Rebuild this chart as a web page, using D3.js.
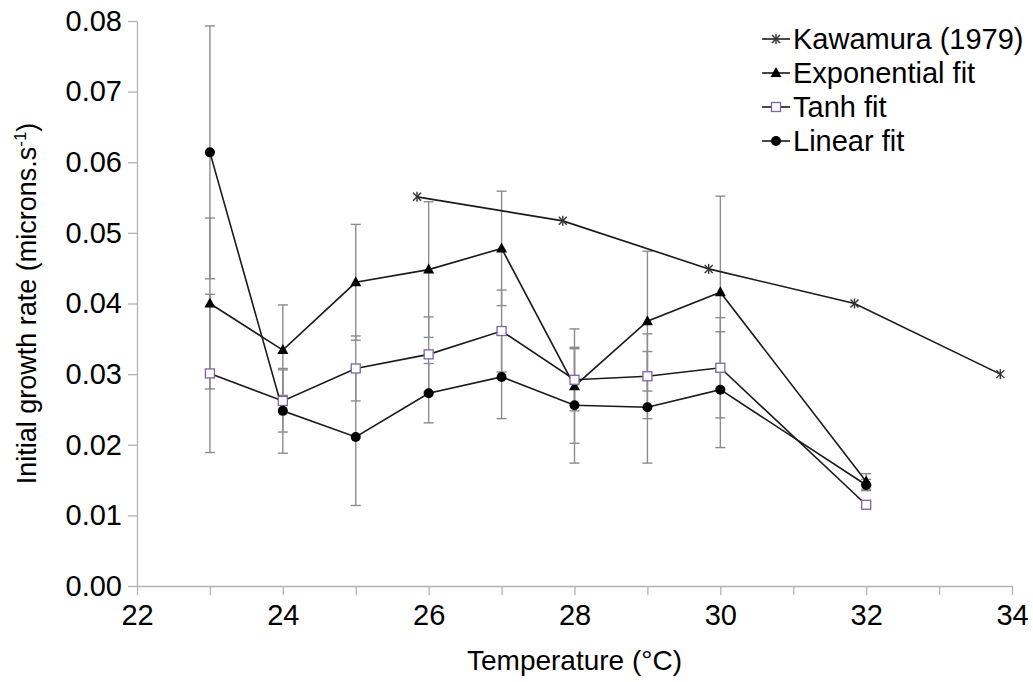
<!DOCTYPE html>
<html lang="en">
<head>
  <meta charset="UTF-8" />
  <title>Initial growth rate vs temperature</title>
  <script src="https://d3js.org/d3.v7.min.js"></script>
  <style>
    body { margin: 0; background: #fff; }
    svg { display: block; font-family: "Liberation Sans", Arial, sans-serif; }
    .axis path, .axis line { stroke: #b3b3b3; stroke-width: 1.3px; }
    .axis text { fill: #000; font-size: 29px; }
  </style>
</head>
<body>
  <div id="chart"></div>

  <script>
    // ----- Data -----
    const temps = [23, 24, 25, 26, 27, 28, 29, 30, 32];

    const expFit     = [0.0400, 0.0334, 0.0430, 0.0448, 0.0478, 0.0283, 0.0375, 0.0416, 0.0148];
    const expErr     = [0.0121, 0.0064, 0.0082, 0.0096, 0.0081, 0.0081, 0.0099, 0.0136, 0.0011];

    const tanhFit    = [0.0301, 0.0262, 0.0308, 0.0328, 0.0361, 0.0292, 0.0297, 0.0309, 0.0115];
    const tanhErr    = [0.0112, 0.0044, 0.0046, 0.0053, 0.0058, 0.0044, 0.0060, 0.0071, 0.0004];

    const linearFit  = [0.0614, 0.0248, 0.0211, 0.0273, 0.0296, 0.0256, 0.0253, 0.0278, 0.0143];
    const linearErr  = [0.0179, 0.0060, 0.0097, 0.0042, 0.0059, 0.0082, 0.0079, 0.0082, 0.0008];

    const kawamuraT  = [25.84, 27.84, 29.84, 31.84, 33.84];
    const kawamura   = [0.0551, 0.0517, 0.0449, 0.0400, 0.0300];

    const xTicks = [22, 23, 24, 25, 26, 27, 28, 29, 30, 31, 32, 33, 34];
    const yTicks = [0, 0.01, 0.02, 0.03, 0.04, 0.05, 0.06, 0.07, 0.08];

    const legendNames = ['Kawamura (1979)', 'Exponential fit', 'Tanh fit', 'Linear fit'];

    // ----- Setup -----
    const width = 1033, height = 682;
    const svg = d3.select('#chart').append('svg')
      .attr('width', width)
      .attr('height', height);

    const x = d3.scaleLinear().domain([22, 34]).range([137, 1012]);
    const y = d3.scaleLinear().domain([0, 0.08]).range([586, 21]);

    // ----- Axes -----
    svg.append('g')
      .attr('class', 'axis')
      .attr('transform', `translate(0,${y(0)})`)
      .call(d3.axisBottom(x)
        .tickValues(xTicks)
        .tickSize(9)
        .tickSizeOuter(0)
        .tickPadding(9)
        .tickFormat(d => d % 2 === 0 ? d : ''));

    svg.append('g')
      .attr('class', 'axis')
      .attr('transform', `translate(${x(22)},0)`)
      .call(d3.axisLeft(y)
        .tickValues(yTicks)
        .tickSize(9)
        .tickSizeOuter(0)
        .tickPadding(6)
        .tickFormat(d3.format('.2f')));

    // axis titles
    svg.append('text')
      .attr('x', (x(22) + x(34)) / 2)
      .attr('y', 670)
      .attr('text-anchor', 'middle')
      .attr('font-size', '28px')
      .text('Temperature (°C)');

    const yTitle = svg.append('text')
      .attr('transform', `translate(36,${(y(0) + y(0.08)) / 2}) rotate(-90)`)
      .attr('text-anchor', 'middle')
      .attr('font-size', '27px');
    yTitle.append('tspan').text('Initial growth rate (microns.s');
    yTitle.append('tspan').attr('font-size', '17px').attr('dy', -10).text('-1');
    yTitle.append('tspan').attr('dy', 10).text(')');

    // ----- Series -----
    const series = [
      { name: legendNames[0], xs: kawamuraT, ys: kawamura, err: null, marker: 'star' },
      { name: legendNames[1], xs: temps, ys: expFit, err: expErr, marker: 'triangle' },
      { name: legendNames[2], xs: temps, ys: tanhFit, err: tanhErr, marker: 'square' },
      { name: legendNames[3], xs: temps, ys: linearFit, err: linearErr, marker: 'circle' }
    ];

    // error bars first (behind)
    const capW = 5;
    series.forEach(s => {
      if (!s.err) return;
      const g = svg.append('g').attr('stroke', '#8c8c8c').attr('stroke-width', 1.4);
      s.xs.forEach((t, i) => {
        const cx = x(t), hi = y(s.ys[i] + s.err[i]), lo = y(s.ys[i] - s.err[i]);
        g.append('line').attr('x1', cx).attr('x2', cx).attr('y1', hi).attr('y2', lo);
        g.append('line').attr('x1', cx - capW).attr('x2', cx + capW).attr('y1', hi).attr('y2', hi);
        g.append('line').attr('x1', cx - capW).attr('x2', cx + capW).attr('y1', lo).attr('y2', lo);
      });
    });

    const line = d3.line().x(d => x(d[0])).y(d => y(d[1]));

    series.forEach(s => {
      svg.append('path')
        .datum(s.xs.map((t, i) => [t, s.ys[i]]))
        .attr('fill', 'none')
        .attr('stroke', '#1a1a1a')
        .attr('stroke-width', 1.6)
        .attr('d', line);
    });

    function drawMarker(g, type, cx, cy) {
      if (type === 'circle') {
        g.append('circle').attr('cx', cx).attr('cy', cy).attr('r', 5).attr('fill', '#000');
      } else if (type === 'triangle') {
        g.append('path')
          .attr('d', `M${cx},${cy - 6}L${cx + 5.5},${cy + 4}L${cx - 5.5},${cy + 4}Z`)
          .attr('fill', '#000');
      } else if (type === 'square') {
        g.append('rect').attr('x', cx - 4.5).attr('y', cy - 4.5)
          .attr('width', 9).attr('height', 9)
          .attr('fill', '#fff').attr('stroke', '#7f63a8').attr('stroke-width', 1.3);
      } else if (type === 'star') {
        // asterisk: x plus vertical stroke
        const r = 4;
        const sg = g.append('g').attr('stroke', '#333').attr('stroke-width', 1.4);
        sg.append('line').attr('x1', cx - r).attr('y1', cy - r).attr('x2', cx + r).attr('y2', cy + r);
        sg.append('line').attr('x1', cx - r).attr('y1', cy + r).attr('x2', cx + r).attr('y2', cy - r);
        sg.append('line').attr('x1', cx).attr('y1', cy - r - 1).attr('x2', cx).attr('y2', cy + r + 1);
      }
    }

    series.forEach(s => {
      const g = svg.append('g');
      s.xs.forEach((t, i) => drawMarker(g, s.marker, x(t), y(s.ys[i])));
    });

    // ----- Legend -----
    const legend = svg.append('g');
    const rowY = [39, 73, 107, 141];
    series.forEach((s, i) => {
      const ly = rowY[i];
      legend.append('line')
        .attr('x1', 762).attr('x2', 790).attr('y1', ly).attr('y2', ly)
        .attr('stroke', '#1a1a1a').attr('stroke-width', 1.6);
      drawMarker(legend, s.marker, 776, ly);
      legend.append('text')
        .attr('x', 793).attr('y', ly)
        .attr('dy', '0.36em')
        .attr('font-size', '29px')
        .text(s.name);
    });
  </script>
</body>
</html>
